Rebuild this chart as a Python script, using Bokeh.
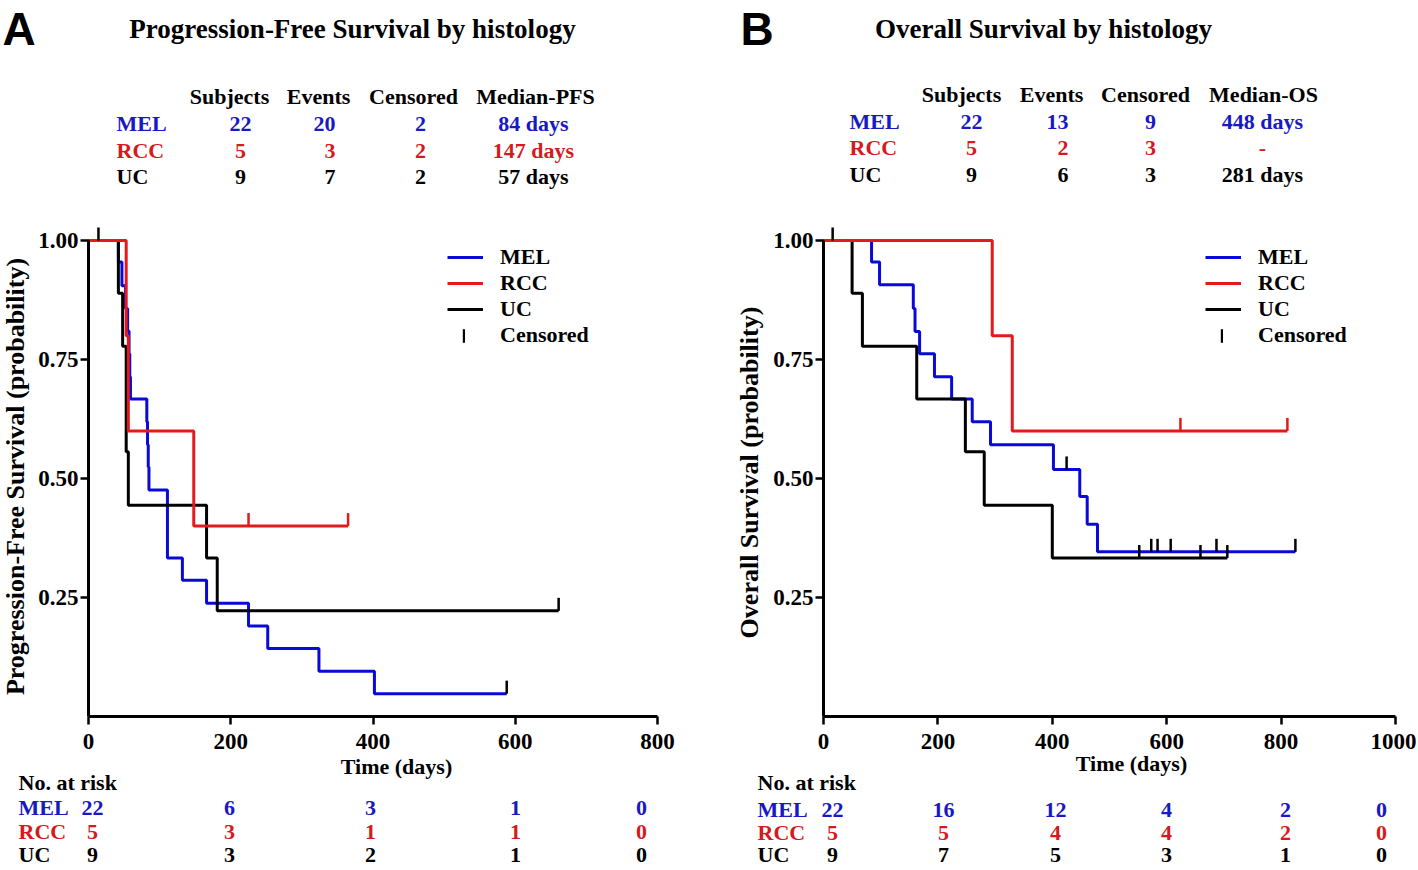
import math
from bokeh.plotting import figure
from bokeh.models import (Range1d, FixedTicker, NumeralTickFormatter, Label,
                          Legend, LegendItem, ColumnDataSource, LinearAxis)
from bokeh.transform import dodge
from bokeh.layouts import row
from bokeh.embed import file_html
from bokeh.resources import INLINE

# ---------------- data ----------------
groups = ["MEL", "RCC", "UC"]

# Progression-free survival (days, survival probability)
pfs_mel_days = [0, 42, 47, 52, 55, 57, 58, 59, 82, 83, 84, 85, 111, 132, 166, 225, 252, 324, 402, 588]
pfs_mel_surv = [1.0, 0.955, 0.905, 0.857, 0.810, 0.762, 0.714, 0.667, 0.619, 0.571, 0.524, 0.476,
                0.333, 0.286, 0.238, 0.190, 0.143, 0.095, 0.048, 0.048]
pfs_mel_cens_days = [588]
pfs_mel_cens_surv = [0.048]

pfs_rcc_days = [0, 53, 56, 148, 365]
pfs_rcc_surv = [1.0, 0.8, 0.6, 0.4, 0.4]
pfs_rcc_cens_days = [225, 365]
pfs_rcc_cens_surv = [0.4, 0.4]

pfs_uc_days = [0, 42, 48, 53, 56, 166, 181, 661]
pfs_uc_surv = [1.0, 0.889, 0.778, 0.556, 0.444, 0.333, 0.222, 0.222]
pfs_uc_cens_days = [14, 661]
pfs_uc_cens_surv = [1.0, 0.222]

# Overall survival
os_mel_days = [0, 84, 98, 157, 160, 168, 194, 224, 260, 292, 402, 448, 461, 479, 825]
os_mel_surv = [1.0, 0.955, 0.907, 0.857, 0.809, 0.762, 0.714, 0.667, 0.619, 0.571, 0.519, 0.462,
               0.404, 0.346, 0.346]
os_mel_cens_days = [425, 573, 584, 607, 687, 825]
os_mel_cens_surv = [0.519, 0.346, 0.346, 0.346, 0.346, 0.346]

os_rcc_days = [0, 295, 330, 811]
os_rcc_surv = [1.0, 0.8, 0.6, 0.6]
os_rcc_cens_days = [624, 811]
os_rcc_cens_surv = [0.6, 0.6]

os_uc_days = [0, 50, 68, 163, 248, 281, 400, 706]
os_uc_surv = [1.0, 0.889, 0.778, 0.667, 0.556, 0.444, 0.333, 0.333]
os_uc_cens_days = [16, 552, 659, 706]
os_uc_cens_surv = [1.0, 0.333, 0.333, 0.333]

# summary tables
pfs_header = ["Subjects", "Events", "Censored", "Median-PFS"]
pfs_subjects = ["22", "5", "9"]
pfs_events = ["20", "3", "7"]
pfs_censored = ["2", "2", "2"]
pfs_median = ["84 days", "147 days", "57 days"]

os_header = ["Subjects", "Events", "Censored", "Median-OS"]
os_subjects = ["22", "5", "9"]
os_events = ["13", "2", "6"]
os_censored = ["9", "3", "3"]
os_median = ["448 days", "-", "281 days"]

# numbers at risk
pfs_risk_mel = ["22", "6", "3", "1", "0"]
pfs_risk_rcc = ["5", "3", "1", "1", "0"]
pfs_risk_uc = ["9", "3", "2", "1", "0"]

os_risk_mel = ["22", "16", "12", "4", "2", "0"]
os_risk_rcc = ["5", "5", "4", "4", "2", "0"]
os_risk_uc = ["9", "7", "5", "3", "1", "0"]

pfs_xticks = [0, 200, 400, 600, 800]
os_xticks = [0, 200, 400, 600, 800, 1000]
yticks = [0.25, 0.5, 0.75, 1.0]

# ---------------- styles / layout ----------------
SERIF = "Liberation Serif"
SANS = "Liberation Sans"
LINE_COL = {"MEL": "#0a0ad8", "RCC": "#e3191c", "UC": "#000000"}
TEXT_COL = {"MEL": "#1818c4", "RCC": "#d8191c", "UC": "#000000"}

FIG_H = 868
AXIS_Y = 716            # page y of probability 0
PX_PER_UNIT = 476       # page px per probability unit
CENS_H = 13             # censor tick height, px


def make_panel(cfg):
    x0_page = cfg["fig_x0"]
    W = cfg["fig_w"]
    frame_left = cfg["axis_x"]
    ppd = cfg["axis_len"] / cfg["x_end"]

    def dx(px):
        return (px - frame_left) / ppd

    def dy(py):
        return (AXIS_Y - py) / PX_PER_UNIT

    p = figure(frame_width=W, frame_height=FIG_H, min_border=0,
               x_range=Range1d(dx(x0_page), dx(x0_page + W)),
               y_range=Range1d(dy(FIG_H), dy(0)),
               x_axis_type=None, y_axis_type=None,
               output_backend="svg", toolbar_location=None, title=None)
    p.outline_line_color = None
    p.background_fill_color = "white"
    p.border_fill_color = "white"

    xa = LinearAxis(fixed_location=0, bounds=(0, cfg["x_end"]),
                    ticker=FixedTicker(ticks=cfg["xticks"]))
    ya = LinearAxis(fixed_location=0, bounds=(0, 1), ticker=FixedTicker(ticks=yticks),
                    formatter=NumeralTickFormatter(format="0.00"))
    for ax in (xa, ya):
        ax.axis_line_width = 3
        ax.major_tick_line_width = 2.5
        ax.major_tick_in = 0
        ax.major_tick_out = 8
        ax.minor_tick_line_color = None
        ax.major_label_text_font = SERIF
        ax.major_label_text_font_style = "bold"
        ax.major_label_text_font_size = "23px"
        ax.major_label_text_color = "black"
    xa.major_label_standoff = 9
    ya.major_label_standoff = 2
    p.add_layout(xa, "below")
    p.add_layout(ya, "left")

    # curves
    curve_r = {}
    cens_r = {}
    for g in ["MEL", "UC", "RCC"]:
        t, s, ct, cs = cfg["curves"][g]
        curve_r[g] = p.step(t, s, mode="after", line_width=3, line_color=LINE_COL[g])
    for g in ["MEL", "UC", "RCC"]:
        t, s, ct, cs = cfg["curves"][g]
        src = ColumnDataSource(dict(t=ct, s=cs))
        col = LINE_COL["RCC"] if g == "RCC" else "black"
        cens_r[g] = p.rect(x="t", y=dodge("s", CENS_H / 2 / PX_PER_UNIT, range=p.y_range),
                           width=2.5, height=CENS_H, width_units="screen", height_units="screen",
                           source=src, fill_color=col, line_color=None)

    # legend: three curves, then the censor symbol
    lx = cfg["legend_x"] - x0_page
    leg = Legend(items=[LegendItem(label="MEL", renderers=[curve_r["MEL"]]),
                        LegendItem(label="RCC", renderers=[curve_r["RCC"]]),
                        LegendItem(label="UC", renderers=[curve_r["UC"]])],
                 location=(lx, FIG_H - 322),
                 border_line_color=None, background_fill_alpha=0,
                 padding=0, margin=0, spacing=0, glyph_width=36, glyph_height=24,
                 label_height=24, label_standoff=17,
                 label_text_font=SERIF, label_text_font_style="bold",
                 label_text_font_size="22px", label_text_color="black")
    leg2 = Legend(items=[LegendItem(label="Censored", renderers=[cens_r["MEL"]])],
                  location=(lx + 15, FIG_H - 348),
                  border_line_color=None, background_fill_alpha=0,
                  padding=0, margin=0, spacing=0, glyph_width=3, glyph_height=17,
                  label_height=24, label_standoff=35,
                  label_text_font=SERIF, label_text_font_style="bold",
                  label_text_font_size="22px", label_text_color="black")
    p.add_layout(leg)
    p.add_layout(leg2)

    def lab(x, y, text, size=22, color="black", align="left", font=SERIF, angle=0.0,
            baseline="middle"):
        p.add_layout(Label(x=dx(x), y=dy(y), text=text, text_font=font,
                           text_font_size=f"{size}px", text_font_style="bold",
                           text_color=color, text_align=align, text_baseline=baseline,
                           angle=angle))

    # axis titles
    lab(cfg["xlabel_cx"], cfg["xlabel_y"], "Time (days)", size=22, align="center")
    lab(cfg["ylabel_x"], cfg["ylabel_cy"], cfg["ylabel"], size=26, align="center",
        angle=math.pi / 2)

    # panel letter and title
    lab(cfg["letter_x"], 28, cfg["letter"], size=46, font=SANS)
    lab(cfg["title_cx"], 28, cfg["title"], size=27, align="center")

    # summary table
    hy = cfg["header_y"]
    for h, cx in zip(cfg["header"], cfg["header_cx"]):
        lab(cx, hy, h, align="center")
    for i, g in enumerate(groups):
        y = cfg["rows_y"][i]
        c = TEXT_COL[g]
        lab(cfg["row_label_x"], y, g, color=c)
        for vals, (x, al) in zip(cfg["table_vals"], cfg["table_cols"]):
            lab(x, y, vals[i], color=c, align=al)

    # numbers at risk
    lab(cfg["risk_label_x"], 782, "No. at risk")
    for i, g in enumerate(groups):
        y = cfg["risk_rows_y"][i]
        c = TEXT_COL[g]
        lab(cfg["risk_label_x"], y, g, color=c)
        for v, x in zip(cfg["risk"][i], cfg["risk_cols_x"]):
            lab(x, y, v, color=c, align="center")
    return p


left_cfg = dict(
    fig_x0=0, fig_w=735, axis_x=88, axis_len=569, x_end=800,
    xticks=pfs_xticks, ylabel="Progression-Free Survival (probability)",
    xlabel_cx=396, xlabel_y=766, ylabel_x=15, ylabel_cy=476,
    curves={"MEL": (pfs_mel_days, pfs_mel_surv, pfs_mel_cens_days, pfs_mel_cens_surv),
            "RCC": (pfs_rcc_days, pfs_rcc_surv, pfs_rcc_cens_days, pfs_rcc_cens_surv),
            "UC": (pfs_uc_days, pfs_uc_surv, pfs_uc_cens_days, pfs_uc_cens_surv)},
    legend_x=447, letter="A", letter_x=2,
    title="Progression-Free Survival by histology", title_cx=352,
    header=pfs_header, header_cx=[229, 318, 413, 535], header_y=96,
    table_vals=[pfs_subjects, pfs_events, pfs_censored, pfs_median],
    table_cols=[(240, "center"), (335, "right"), (420, "center"), (533, "center")],
    rows_y=[123, 150, 176], row_label_x=116,
    risk=[pfs_risk_mel, pfs_risk_rcc, pfs_risk_uc], risk_label_x=18,
    risk_rows_y=[807, 831, 854], risk_cols_x=[92, 229, 370, 515, 641],
)

right_cfg = dict(
    fig_x0=735, fig_w=681, axis_x=823, axis_len=572, x_end=1000,
    xticks=os_xticks, ylabel="Overall Survival (probability)",
    xlabel_cx=1131, xlabel_y=763, ylabel_x=749, ylabel_cy=472,
    curves={"MEL": (os_mel_days, os_mel_surv, os_mel_cens_days, os_mel_cens_surv),
            "RCC": (os_rcc_days, os_rcc_surv, os_rcc_cens_days, os_rcc_cens_surv),
            "UC": (os_uc_days, os_uc_surv, os_uc_cens_days, os_uc_cens_surv)},
    legend_x=1205, letter="B", letter_x=740,
    title="Overall Survival by histology", title_cx=1043,
    header=os_header, header_cx=[961, 1051, 1145, 1263], header_y=94,
    table_vals=[os_subjects, os_events, os_censored, os_median],
    table_cols=[(971, "center"), (1068, "right"), (1150, "center"), (1262, "center")],
    rows_y=[121, 147, 174], row_label_x=849,
    risk=[os_risk_mel, os_risk_rcc, os_risk_uc], risk_label_x=757,
    risk_rows_y=[809, 832, 854], risk_cols_x=[832, 943, 1055, 1166, 1285, 1381],
)

p1 = make_panel(left_cfg)
p2 = make_panel(right_cfg)
layout = row(p1, p2)

open("out.html", "w").write(file_html(layout, INLINE))
